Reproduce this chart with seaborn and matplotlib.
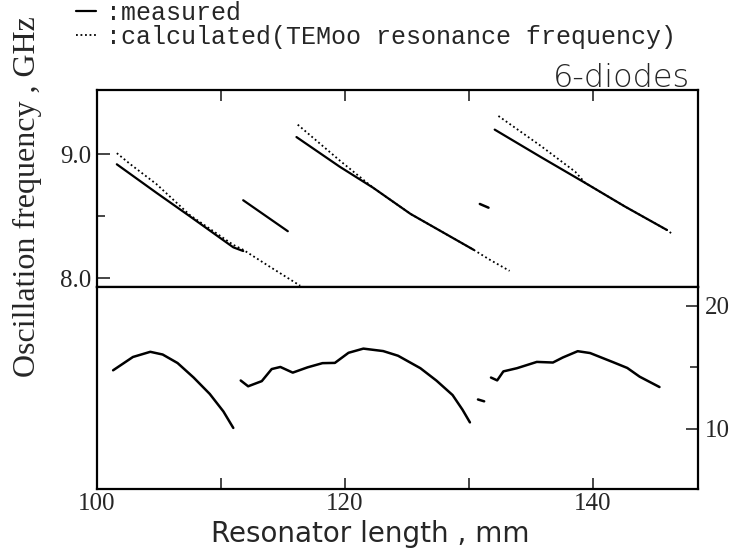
import matplotlib
matplotlib.use('Agg')
import matplotlib.pyplot as plt
import seaborn as sns

# upper panel: oscillation frequency (GHz) vs resonator length (mm)
meas1_x = [101.6, 104.8, 107.5, 111.0, 111.8]
meas1_y = [8.92, 8.69, 8.50, 8.25, 8.22]
calc1_x = [101.6, 102.7, 104.8, 107.5, 111.0, 111.8, 114.0, 116.4]
calc1_y = [9.01, 8.92, 8.76, 8.51, 8.27, 8.23, 8.09, 7.94]
short_x = [111.8, 115.4]
short_y = [8.63, 8.38]
meas2_x = [116.1, 119.6, 122.3, 125.3, 130.4]
meas2_y = [9.14, 8.90, 8.73, 8.52, 8.23]
calc2_x = [116.2, 119.6, 122.3, 125.3, 130.4, 131.7, 133.3]
calc2_y = [9.24, 8.95, 8.73, 8.52, 8.23, 8.15, 8.06]
dash_x = [130.9, 131.6]
dash_y = [8.60, 8.57]
meas3_x = [132.1, 135.8, 139.4, 142.6, 146.0]
meas3_y = [9.20, 8.98, 8.77, 8.58, 8.39]
calc3_x = [132.4, 135.8, 138.6, 139.4, 142.6, 146.0, 146.4]
calc3_y = [9.31, 9.07, 8.86, 8.77, 8.58, 8.39, 8.36]

# lower panel: output (right axis)
powA_x = [101.3, 102.9, 104.3, 105.3, 106.5, 107.8, 109.1, 110.2, 111.0]
powA_y = [14.74, 15.82, 16.24, 16.02, 15.33, 14.15, 12.82, 11.40, 10.06]
powB_x = [111.6, 112.2, 113.3, 114.1, 114.8, 115.8, 117.0, 118.2, 119.2,
          120.3, 121.5, 123.1, 124.3, 126.1, 127.4, 128.7, 129.5, 130.1]
powB_y = [13.91, 13.44, 13.86, 14.84, 15.01, 14.55, 14.98, 15.32, 15.34,
          16.16, 16.50, 16.30, 15.92, 14.91, 13.90, 12.73, 11.54, 10.51]
powbit_x = [130.75, 131.25]
powbit_y = [12.37, 12.22]
powC_x = [131.8, 132.3, 132.8, 133.9, 135.5, 136.8, 137.6, 138.8, 139.8,
          141.7, 142.8, 143.8, 145.4]
powC_y = [14.15, 13.92, 14.65, 14.91, 15.42, 15.37, 15.78, 16.29, 16.14,
          15.38, 14.93, 14.22, 13.38]

sns.set_style('white')
plt.rcParams['font.family'] = ['DejaVu Sans']

SERIF = 'Liberation Serif'
DOTS = (0, (1, 1.5))


def trace(ax, xs, ys, **kw):
    sns.lineplot(x=xs, y=ys, ax=ax, estimator=None, sort=False, color='black', **kw)
    return ax.lines[-1]


fig = plt.figure(figsize=(7.31, 5.54), dpi=100)
ax1 = fig.add_axes([0.1327, 0.482, 0.822, 0.3556])
ax2 = fig.add_axes([0.1327, 0.1173, 0.822, 0.3646])

h_meas = trace(ax1, meas1_x, meas1_y, linewidth=1.6)
h_calc = trace(ax1, calc1_x, calc1_y, linewidth=1.3, linestyle=DOTS)
trace(ax1, short_x, short_y, linewidth=1.6)
trace(ax1, meas2_x, meas2_y, linewidth=1.6)
trace(ax1, calc2_x, calc2_y, linewidth=1.3, linestyle=DOTS)
trace(ax1, dash_x, dash_y, linewidth=1.8)
trace(ax1, meas3_x, meas3_y, linewidth=1.6)
trace(ax1, calc3_x, calc3_y, linewidth=1.3, linestyle=DOTS)

for xs, ys in [(powA_x, powA_y), (powB_x, powB_y), (powbit_x, powbit_y), (powC_x, powC_y)]:
    trace(ax2, xs, ys, linewidth=1.8)

for ax in (ax1, ax2):
    ax.set_xlim(100, 148.5)
    ax.set_xlabel('')
    ax.set_ylabel('')
    for s in ax.spines.values():
        s.set_color('black')
        s.set_linewidth(1.6)

ax1.set_ylim(7.93, 9.52)
ax1.set_xticks([110, 120, 130, 140])
ax1.set_yticks([8.0, 9.0], ['8.0', '9.0'])
ax1.set_yticks([8.5], minor=True)
ax1.tick_params(axis='x', bottom=False, top=True, labelbottom=False, direction='in', length=8, width=1.2)
ax1.tick_params(axis='y', which='both', left=True, right=False, direction='in', width=1.2, labelsize=18, pad=4)
ax1.tick_params(axis='y', which='major', length=9)
ax1.tick_params(axis='y', which='minor', length=6)

ax2.set_ylim(5.1, 21.5)
ax2.set_xticks([100, 110, 120, 130, 140], ['100', '', '120', '', '140'])
ax2.yaxis.tick_right()
ax2.set_yticks([10, 20], ['10', '20'])
ax2.set_yticks([15], minor=True)
ax2.tick_params(axis='x', bottom=True, top=False, direction='in', length=8, width=1.2, labelsize=18, pad=3)
ax2.tick_params(axis='y', which='both', left=False, right=True, direction='in', width=1.2, labelsize=18, pad=5)
ax2.tick_params(axis='y', which='major', length=9)
ax2.tick_params(axis='y', which='minor', length=6)

for ax in (ax1, ax2):
    plt.setp(ax.get_xticklabels() + ax.get_yticklabels(), family=SERIF)

fig.text(0.038, 1 - 197 / 554, 'Oscillation frequency , GHz', rotation=90,
         ha='center', va='center', family=SERIF, size=23)
fig.text(370 / 731, 1 - 534 / 554, 'Resonator length , mm', ha='center', va='center', size=20)
fig.text(690 / 731, 0.843, '6-diodes', ha='right', va='baseline', size=23, weight='light')

fig.legend([h_meas, h_calc], [':measured', ':calculated(TEMoo resonance frequency)'],
           loc='upper left', bbox_to_anchor=(76 / 731, 1 - 1 / 554), frameon=False,
           prop={'family': 'Liberation Mono', 'size': 18}, handlelength=0.8,
           handletextpad=0.4, labelspacing=0.0, borderpad=0, borderaxespad=0)

fig.savefig('out.png', dpi=100, facecolor='white')
